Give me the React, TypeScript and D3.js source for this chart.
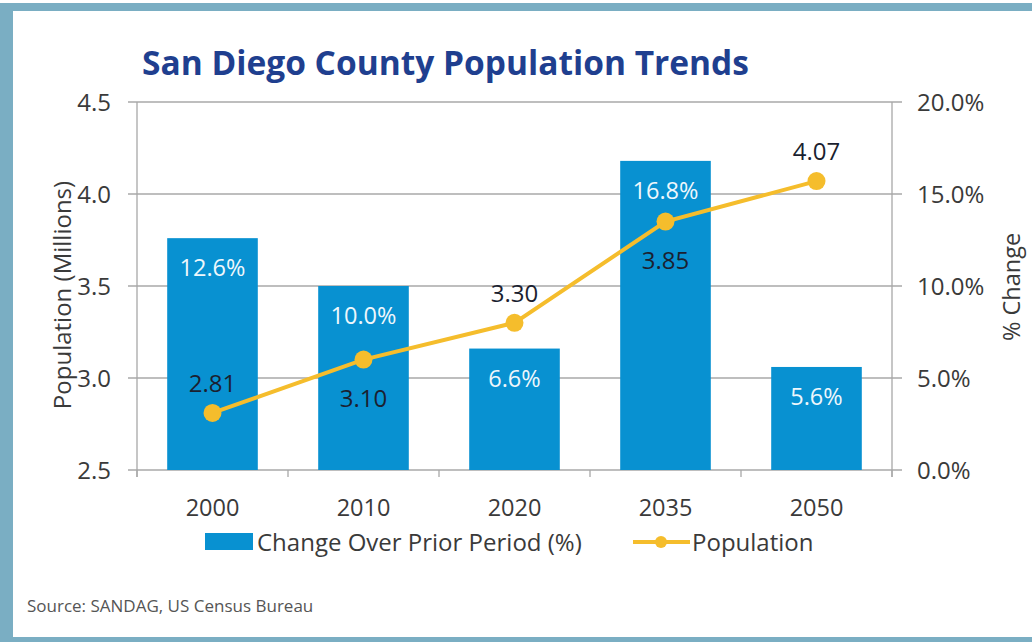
import React from 'react';
import * as d3 from 'd3';

const years = ['2000', '2010', '2020', '2035', '2050'];
const pctChange = [12.6, 10.0, 6.6, 16.8, 5.6];
const population = [2.81, 3.1, 3.3, 3.85, 4.07];
// label placement of the population values (above / below the dot)
const popLabelAbove = [true, false, true, false, true];
const leftTicks = [2.5, 3.0, 3.5, 4.0, 4.5];
const rightTicks = [0, 5, 10, 15, 20];

const W = 1032;
const H = 642;
const FONT = '"Open Sans", "Noto Sans", sans-serif';
const BAR = '#0891d1';
const LINE = '#f5bd2c';
const AXIS = '#a8a8a8';
const TEXT = '#3a3a3a';
const FRAME = '#7aaec3';

const App: React.FC = () => {
  const left = 137;
  const right = 892;
  const top = 102;
  const bottom = 470;

  const x = d3.scaleBand<string>().domain(years).range([left, right]).paddingInner(0.4).paddingOuter(0.2);
  const yPop = d3.scaleLinear().domain([2.5, 4.5]).range([bottom, top]);
  const yPct = d3.scaleLinear().domain([0, 20]).range([bottom, top]);

  const cx = (d: string) => (x(d) as number) + x.bandwidth() / 2;
  const line = d3
    .line<number>()
    .x((_, i) => cx(years[i]))
    .y((d) => yPop(d));

  // band boundaries for the small x-axis ticks
  const boundaries = d3.range(years.length + 1).map((i) => left + i * ((right - left) / years.length));

  return (
    <div style={{ position: 'absolute', left: 0, top: 0 }}>
      <svg width={W} height={H} style={{ display: 'block', background: '#fff' }} fontFamily={FONT}>
        {/* frame */}
        <rect x={0} y={3} width={W} height={8} fill={FRAME} />
        <rect x={0} y={3} width={13} height={H - 3} fill={FRAME} />
        <rect x={0} y={637} width={W} height={5} fill={FRAME} />

        <text x={142} y={75} fontSize={33.5} fontWeight="bold" fill="#1f3f8f">
          San Diego County Population Trends
        </text>

        {/* gridlines */}
        {leftTicks.map((t) => (
          <line key={t} x1={128} x2={902} y1={yPop(t)} y2={yPop(t)} stroke={AXIS} strokeWidth={1.3} />
        ))}
        {/* axes */}
        <line x1={left} x2={left} y1={top} y2={477} stroke={AXIS} strokeWidth={1.3} />
        <line x1={right} x2={right} y1={top} y2={477} stroke={AXIS} strokeWidth={1.3} />
        {boundaries.map((b, i) => (
          <line key={i} x1={b} x2={b} y1={bottom} y2={477} stroke={AXIS} strokeWidth={1.3} />
        ))}

        {/* left tick labels */}
        {leftTicks.map((t) => (
          <text key={t} x={111} y={yPop(t) + 8.5} textAnchor="end" fontSize={24} fill={TEXT}>
            {d3.format('.1f')(t)}
          </text>
        ))}
        {/* right tick labels */}
        {rightTicks.map((t) => (
          <text key={t} x={917} y={yPct(t) + 8.5} fontSize={24} fill={TEXT}>
            {d3.format('.1f')(t)}%
          </text>
        ))}

        <text transform={`translate(71, 295) rotate(-90)`} textAnchor="middle" fontSize={24} fill={TEXT}>
          Population (Millions)
        </text>
        <text transform={`translate(1020, 287) rotate(-90)`} textAnchor="middle" fontSize={23.5} fill={TEXT}>
          % Change
        </text>

        {/* bars */}
        {years.map((y, i) => (
          <g key={y}>
            <rect
              x={x(y)}
              y={yPct(pctChange[i])}
              width={x.bandwidth()}
              height={bottom - yPct(pctChange[i])}
              fill={BAR}
            />
            <text x={cx(y)} y={yPct(pctChange[i]) + 38} textAnchor="middle" fontSize={23.5} fill="#eef7fc">
              {d3.format('.1f')(pctChange[i])}%
            </text>
          </g>
        ))}

        {/* population line */}
        <path d={line(population) || ''} fill="none" stroke={LINE} strokeWidth={4} />
        {population.map((p, i) => (
          <g key={i}>
            <circle cx={cx(years[i])} cy={yPop(p)} r={9} fill={LINE} />
            <text
              x={cx(years[i])}
              y={popLabelAbove[i] ? yPop(p) - 21 : yPop(p) + 47}
              textAnchor="middle"
              fontSize={24}
              fill="#1b1f30"
            >
              {d3.format('.2f')(p)}
            </text>
          </g>
        ))}

        {/* x labels */}
        {years.map((y) => (
          <text key={y} x={cx(y)} y={516} textAnchor="middle" fontSize={23.5} fill={TEXT}>
            {y}
          </text>
        ))}

        {/* legend */}
        <rect x={205} y={533} width={48} height={17} fill={BAR} />
        <text x={257} y={551} fontSize={24} fill={TEXT}>
          Change Over Prior Period (%)
        </text>
        <line x1={633} x2={690} y1={542} y2={542} stroke={LINE} strokeWidth={4} />
        <circle cx={661} cy={542} r={6} fill={LINE} />
        <text x={692} y={551} fontSize={24} fill={TEXT}>
          Population
        </text>

        <text x={27} y={612} fontSize={17} fill="#555">
          Source: SANDAG, US Census Bureau
        </text>
      </svg>
    </div>
  );
};

export default App;
